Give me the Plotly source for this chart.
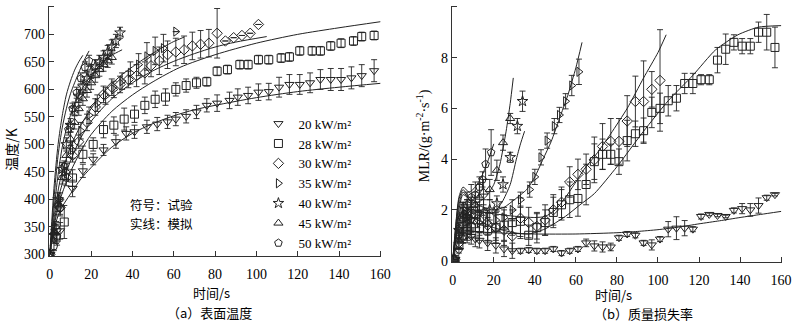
import plotly.graph_objects as go

# ---------------- (a) surface temperature: experiments ----------------
T20_t = [0,5,11,16,21,26,32,37,41,47,52,57,61,66,71,76,81,87,91,96,101,106,111,116,121,126,131,136,141,146,151,157]
T20_v = [300,343,420,452,473,490,505,520,523,532,537,541,546,551,559,571,575,580,586,589,595,596,604,609,609,612,618,618,618,621,625,634]
T20_e = [0,15,15,12,10,10,12,12,12,12,12,12,12,12,12,12,15,15,15,15,15,15,18,18,18,18,18,20,20,20,20,20]

T28_t = [0,3,7,11,16,21,26,31,36,41,46,51,56,61,66,71,76,81,86,92,96,101,106,112,116,121,127,131,136,141,147,151,157]
T28_v = [300,330,359,439,482,500,527,535,546,555,571,582,586,600,607,612,614,633,636,645,645,654,654,657,659,670,670,670,679,684,688,696,698]
T28_e = [0,10,30,15,15,12,15,15,20,15,15,15,15,12,12,10,8,8,8,8,8,8,8,8,8,8,8,8,8,8,8,8,8]

T30_t = [0,3,5,8,11,14,18,22,26,30,34,38,42,46,49,53,57,61,65,69,73,77,81,85,89,93,97,101]
T30_v = [300,345,385,440,480,505,540,568,591,604,609,618,625,630,643,652,663,668,672,679,682,684,702,688,694,698,702,718]
T30_e = [0,10,15,15,12,12,15,15,15,15,15,15,20,20,20,25,25,25,25,25,25,25,45,0,0,0,0,0]

T35_t = [0,3,5,8,11,15,19,23,27,31,35,39,43,47,51,55,61]
T35_v = [300,350,400,450,490,525,553,575,588,600,615,630,645,660,670,675,705]
T35_e = [0,10,12,15,15,15,15,15,15,15,15,20,20,25,25,25,0]

T40_t = [0,2,4,6,8,10,12,14,16,18,20,22,24,26,28,30,32,34]
T40_v = [300,335,400,455,500,535,565,588,605,620,632,642,650,658,668,678,688,703]
T40_e = [0,10,12,12,12,12,12,12,12,12,12,12,12,12,12,12,12,10]

T45_t = [0,2,4,6,8,10,12,14,16,18,20,22,24,26,28,30]
T45_v = [300,340,390,440,480,510,540,565,583,598,612,625,636,645,652,658]
T45_e = [0,12,12,12,12,12,12,12,12,12,12,12,12,12,12,12]

T50_t = [0,2,3.5,5,7,9,11,13,15,17,19]
T50_v = [300,315,332,385,460,527,565,594,620,640,652]
T50_e = [0,8,15,12,10,10,10,10,10,10,10]

# ---------------- (a) simulations ----------------
L20_t = [0,2,5,10,15,20,30,40,50,60,70,80,100,120,140,160]
L20_v = [300,345,380,410,437,458,495,520,538,552,563,571,585,596,604,611]
L28_t = [0,2,5,10,15,20,30,40,50,63,80,100,120,140,160]
L28_v = [300,350,400,450,488,518,560,590,614,640,663,684,700,712,723]
L30_t = [0,2,5,10,15,20,30,40,50,60,70,80,90,105]
L30_v = [300,355,415,470,512,542,583,612,634,651,665,677,686,696]
L35_t = [0,2,5,10,15,20,25,30,35,40,45,50,55,60,65]
L35_v = [300,365,435,495,535,565,590,610,627,641,654,666,677,687,695]
L40_t = [0,2,4,6,8,10,14,18,22,26,30,35]
L40_v = [300,380,445,495,528,553,590,615,635,650,662,672]
L45_t = [0,2,4,6,8,10,12,14,16,19]
L45_v = [300,400,480,530,565,592,612,630,648,670]
L50_t = [0,2,4,6,8,10,12,14,16]
L50_v = [300,420,500,552,590,615,635,650,662]

# ---------------- (b) MLR: experiments ----------------
M20_t = [1,3,5,7,9,11,13,17,21,25,29,33,37,41,45,49,53,57,61,65,69,73,77,81,85,89,93,97,101,105,109,113,117,121,125,129,133,137,141,145,149,153,157]
M20_v = [0.05,0.4,0.9,1.0,0.95,0.85,0.8,0.7,0.6,0.46,0.39,0.39,0.42,0.39,0.39,0.46,0.3,0.39,0.46,0.7,0.58,0.54,0.54,0.9,1.05,1.0,0.7,0.62,0.85,1.24,1.28,1.28,1.24,1.74,1.82,1.78,1.74,1.98,2.05,2.0,2.17,2.48,2.6]
M20_e = [0,0.1,0.2,0.3,0.3,0.3,0.3,0.3,0.3,0.3,0.3,0.1,0.1,0.1,0.1,0.1,0.1,0.1,0.1,0.15,0.2,0.2,0.15,0.1,0.1,0.1,0.1,0.2,0.1,0.3,0.45,0.3,0.1,0.1,0.05,0.05,0.05,0.1,0.2,0.25,0.3,0.1,0.05]

M28_t = [1,3,5,7,9,13,17,21,25,29,33,37,41,45,49,53,57,61,65,69,73,77,81,85,89,93,97,101,105,109,113,117,121,125,129,133,137,141,145,149,153,157]
M28_v = [0.05,0.6,1.0,1.2,1.3,1.3,1.2,1.3,1.4,1.5,1.55,1.0,1.3,1.5,1.9,2.2,2.4,2.45,3.0,3.9,4.19,4.19,3.9,4.73,5.0,5.12,5.84,6.0,6.3,6.4,6.98,6.98,7.13,7.13,7.9,8.33,8.6,8.45,8.45,9.0,9.0,8.4]
M28_e = [0,0.1,0.3,0.4,0.4,0.5,0.5,0.5,0.6,0.5,0.6,0.4,0.6,0.5,0.6,0.6,0.7,0.7,0.8,0.7,0.6,0.4,0.5,0.8,0.5,0.5,0.6,0.6,0.6,0.5,0.4,0.4,0.2,0.2,0.5,0.6,0.3,0.3,0.3,0.4,0.7,0.8]

M30_t = [1,3,5,7,9,13,17,21,25,29,33,37,41,45,49,53,57,61,65,69,73,77,81,85,89,93,97,101]
M30_v = [0.05,0.7,1.7,1.9,1.8,1.6,1.4,1.3,1.2,0.97,1.67,1.5,1.35,1.6,2.0,2.3,3.1,3.4,3.6,3.97,4.5,4.7,4.7,5.5,6.27,6.27,6.75,7.1]
M30_e = [0,0.2,0.4,0.5,0.5,0.6,0.6,0.6,0.6,0.6,0.8,0.6,0.5,0.6,0.6,0.6,0.6,0.6,0.6,0.9,0.9,0.9,0.9,1.0,1.0,1.6,0.7,2.0]

M35_t = [1,3,5,7,9,13,17,21,25,29,33,37.5,40,43,46,49.5,52,55,58,61.5]
M35_v = [0.05,1.0,1.9,1.7,1.6,1.5,1.5,1.6,1.7,2.0,2.4,2.8,3.3,4.07,4.73,5.3,5.74,6.28,6.9,7.44]
M35_e = [0,0.2,0.4,0.4,0.4,0.4,0.4,0.4,0.4,0.4,0.3,0.3,0.3,0.3,0.3,0.3,0.3,0.3,0.4,0.5]

M40_t = [1,3,5,7,9,12,15,18,21.5,24.5,28,31.5,34]
M40_v = [0.05,1.2,1.6,1.7,1.6,1.8,1.9,2.0,2.25,3.0,4.07,5.3,6.28]
M40_e = [0,0.3,0.5,0.5,0.5,0.5,0.5,0.4,0.3,0.3,0.2,0.3,0.4]

M45_t = [1,3,5,7,9,11,13,15,18,21.5,24.5,28]
M45_v = [0.05,1.3,1.8,1.9,2.0,2.2,2.5,2.7,2.8,3.56,4.65,5.6]
M45_e = [0,0.3,0.5,0.5,0.5,0.5,0.5,0.5,0.4,0.4,0.3,0.2]

M50_t = [1,3,5,7,9,11,13,14.5,16,18.7]
M50_v = [0.05,1.0,1.8,2.2,2.5,2.6,2.9,3.2,3.8,4.26]
M50_e = [0,0.3,0.4,0.5,0.5,0.5,0.4,0.3,0.6,0.9]

# ---------------- (b) simulations ----------------
ML20_t = [0,3,5,10,20,40,60,80,90,100,110,120,130,140,150,160]
ML20_v = [0,0.9,1.2,1.15,1.1,1.05,1.05,1.1,1.15,1.22,1.32,1.45,1.57,1.7,1.82,1.94]
ML28_t = [0,3,5,10,20,30,37,45,55,62,69,80,93,105,117,128,139,149,160]
ML28_v = [0,1.5,2.0,1.7,1.3,1.1,1.05,1.25,1.75,2.2,2.64,3.7,5.1,6.3,7.3,8.3,8.9,9.2,9.26]
ML30_t = [0,3,5,10,20,30,40,45,50,55,60,64,70,77,85,93,100,104]
ML30_v = [0,1.8,2.3,2.0,1.85,1.75,1.7,1.74,2.0,2.5,3.1,3.6,4.2,5.0,6.0,7.2,8.2,8.9]
ML35_t = [0,3,5,10,15,20,25,30,36,40,44,48,52,56,60,63]
ML35_v = [0,2.0,2.6,2.3,2.1,2.0,2.1,2.4,2.8,3.3,4.0,4.7,5.6,6.5,7.6,8.6]
ML40_t = [0,3,5,10,15,20,24,28,31,33,35]
ML40_v = [0,2.2,2.7,2.2,1.9,1.9,2.3,3.0,4.0,4.6,5.1]
ML45_t = [0,3,5,8,12,16,20,23,26,28,29.5]
ML45_v = [0,2.4,2.8,2.5,2.3,2.5,3.0,3.8,5.1,6.2,7.2]
ML50_t = [0,3,5,8,11,14,17,20]
ML50_v = [0,2.5,2.9,2.7,2.9,3.3,3.9,4.6]

LABELS = ["20 kW/m²", "28 kW/m²", "30 kW/m²", "35 kW/m²", "40 kW/m²", "45 kW/m²", "50 kW/m²"]
SYMBOLS = ["triangle-down-open", "square-open", "diamond-open", "triangle-right-open",
           "star-open", "triangle-up-open", "pentagon-open"]

X_TICKS = [0, 20, 40, 60, 80, 100, 120, 140, 160]
T_TICKS = [300, 350, 400, 450, 500, 550, 600, 650, 700, 750]
M_TICKS = [0, 2, 4, 6, 8, 10]

INK = "#222222"
SERIF = "Liberation Serif"
CJK = "Noto Sans CJK SC"

fig = go.Figure()

temp_lines = [(L20_t, L20_v), (L28_t, L28_v), (L30_t, L30_v), (L35_t, L35_v),
              (L40_t, L40_v), (L45_t, L45_v), (L50_t, L50_v)]
mlr_lines = [(ML20_t, ML20_v), (ML28_t, ML28_v), (ML30_t, ML30_v), (ML35_t, ML35_v),
             (ML40_t, ML40_v), (ML45_t, ML45_v), (ML50_t, ML50_v)]
temp_pts = [(T20_t, T20_v, T20_e), (T28_t, T28_v, T28_e), (T30_t, T30_v, T30_e), (T35_t, T35_v, T35_e),
            (T40_t, T40_v, T40_e), (T45_t, T45_v, T45_e), (T50_t, T50_v, T50_e)]
mlr_pts = [(M20_t, M20_v, M20_e), (M28_t, M28_v, M28_e), (M30_t, M30_v, M30_e), (M35_t, M35_v, M35_e),
           (M40_t, M40_v, M40_e), (M45_t, M45_v, M45_e), (M50_t, M50_v, M50_e)]

for (t, v) in temp_lines:
    fig.add_trace(go.Scatter(x=t, y=v, mode="lines", line=dict(color=INK, width=1, shape="spline", smoothing=0.8),
                             showlegend=False, xaxis="x", yaxis="y", hoverinfo="skip"))
for (t, v) in mlr_lines:
    fig.add_trace(go.Scatter(x=t, y=v, mode="lines", line=dict(color=INK, width=1, shape="spline", smoothing=0.6),
                             showlegend=False, xaxis="x2", yaxis="y2", hoverinfo="skip"))

for i, (t, v, e) in enumerate(temp_pts):
    fig.add_trace(go.Scatter(x=t, y=v, mode="markers", name=LABELS[i],
                             marker=dict(symbol=SYMBOLS[i], size=8, color=INK, line=dict(width=1, color=INK)),
                             error_y=dict(type="data", array=e, visible=True, color=INK, thickness=0.9, width=3),
                             showlegend=True, xaxis="x", yaxis="y"))
for i, (t, v, e) in enumerate(mlr_pts):
    fig.add_trace(go.Scatter(x=t, y=v, mode="markers", name=LABELS[i],
                             marker=dict(symbol=SYMBOLS[i], size=8, color=INK, line=dict(width=1, color=INK)),
                             error_y=dict(type="data", array=e, visible=True, color=INK, thickness=0.9, width=3),
                             showlegend=False, xaxis="x2", yaxis="y2"))

axis_common = dict(showline=True, linecolor="#333333", linewidth=1, ticks="inside", ticklen=5,
                   tickcolor="#333333", showgrid=False, zeroline=False,
                   tickfont=dict(family=SERIF, size=14, color="black"))

fig.update_layout(
    width=800, height=329,
    margin=dict(l=0, r=0, t=0, b=0),
    paper_bgcolor="white", plot_bgcolor="white",
    xaxis=dict(domain=[0.0593, 0.4808], range=[-0.5, 160.5], tickvals=X_TICKS,
               anchor="y", ticklabelstandoff=5, **axis_common),
    yaxis=dict(domain=[0.2046, 0.9821], range=[297, 752], tickvals=T_TICKS,
               anchor="x", **axis_common),
    xaxis2=dict(domain=[0.57, 0.98875], range=[-0.5, 160.5], tickvals=X_TICKS,
                anchor="y2", ticklabelstandoff=5, **axis_common),
    yaxis2=dict(domain=[0.1866, 0.9827], range=[-0.05, 10.05], tickvals=M_TICKS,
                anchor="x2", **axis_common),
    legend=dict(x=260 / 800, y=(329 - 111) / 329, xanchor="left", yanchor="top",
                font=dict(family=SERIF, size=13, color="black"), bgcolor="rgba(0,0,0,0)",
                tracegroupgap=0, itemwidth=30),
    showlegend=True,
)

ann = [
    dict(text="温度/K", x=9 / 800, y=(329 - 152) / 329, textangle=-90, font=dict(family=CJK, size=14)),
    dict(text="MLR/(g·m<sup>-2</sup>·s<sup>-1</sup>)", x=427 / 800, y=(329 - 139) / 329, textangle=-90,
         font=dict(family=SERIF, size=14)),
    dict(text="时间/s", x=212 / 800, y=(329 - 298.5) / 329, font=dict(family=CJK, size=13)),
    dict(text="时间/s", x=620 / 800, y=(329 - 301) / 329, font=dict(family=CJK, size=13)),
    dict(text="（a）表面温度", x=210 / 800, y=(329 - 319) / 329, font=dict(family=CJK, size=13)),
    dict(text="（b）质量损失率", x=650 / 800, y=(329 - 320) / 329, font=dict(family=CJK, size=13)),
    dict(text="符号：试验", x=162 / 800, y=(329 - 209) / 329, font=dict(family=CJK, size=12.5)),
    dict(text="实线：模拟", x=162 / 800, y=(329 - 228) / 329, font=dict(family=CJK, size=12.5)),
]
for a in ann:
    fig.add_annotation(xref="paper", yref="paper", showarrow=False, xanchor="center", yanchor="middle",
                       font_color="black", **a)

fig.write_html("out.html")
